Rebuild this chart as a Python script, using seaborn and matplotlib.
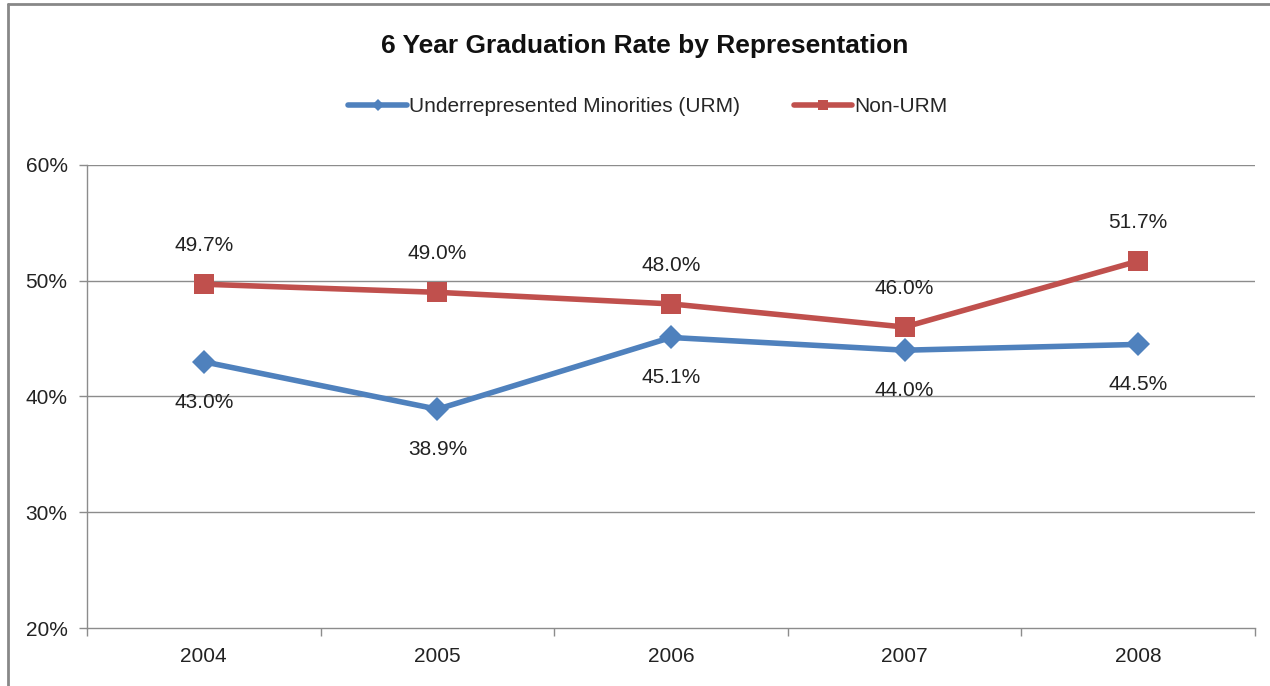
import matplotlib
matplotlib.use("Agg")
import matplotlib.pyplot as plt
import seaborn as sns
import pandas as pd
from matplotlib.lines import Line2D
from matplotlib.ticker import FixedLocator, PercentFormatter

years = ["2004", "2005", "2006", "2007", "2008"]
urm = [43.0, 38.9, 45.1, 44.0, 44.5]
non_urm = [49.7, 49.0, 48.0, 46.0, 51.7]
series_names = ["Underrepresented Minorities (URM)", "Non-URM"]
title = "6 Year Graduation Rate by Representation"
yticks = [20, 30, 40, 50, 60]

blue = "#4F81BD"
red = "#C0504D"

sns.set_theme(style="white")
plt.rcParams["font.family"] = ["Liberation Sans Narrow", "Liberation Sans", "DejaVu Sans"]

fig = plt.figure(figsize=(12.7, 6.86), dpi=100)
ax = fig.add_axes([87/1270, 1-628/686, (1255-87)/1270, (628-165)/686])

df = pd.DataFrame({"year": list(range(len(years))) * 2,
                   "rate": urm + non_urm,
                   "series": [series_names[0]] * 5 + [series_names[1]] * 5})

sns.lineplot(data=df[df.series == series_names[0]], x="year", y="rate", ax=ax,
             color=blue, lw=4, marker="D", markersize=12, markeredgewidth=0, legend=False)
sns.lineplot(data=df[df.series == series_names[1]], x="year", y="rate", ax=ax,
             color=red, lw=4, marker="s", markersize=14.5, markeredgewidth=0, legend=False)

for i, v in enumerate(urm):
    ax.annotate(f"{v:.1f}%", (i, v), xytext=(0, -29), textcoords="offset points",
                ha="center", va="center", fontsize=15, color="#222222")
for i, v in enumerate(non_urm):
    ax.annotate(f"{v:.1f}%", (i, v), xytext=(0, 28), textcoords="offset points",
                ha="center", va="center", fontsize=15, color="#222222")

ax.set_xlim(-0.5, 4.5)
ax.set_ylim(20, 60)
ax.yaxis.set_major_locator(FixedLocator(yticks))
ax.yaxis.set_major_formatter(PercentFormatter(decimals=0))
ax.set_xticks(range(len(years)))
ax.set_xticklabels(years)
ax.set_xticks([i - 0.5 for i in range(len(years) + 1)], minor=True)
ax.tick_params(axis="x", which="major", length=0, pad=14, labelsize=15, colors="#222222")
ax.tick_params(axis="x", which="minor", length=6, width=1, color="#8c8c8c", direction="out", bottom=True)
ax.tick_params(axis="y", length=6, width=1, color="#8c8c8c", direction="out", left=True,
               pad=8, labelsize=15, labelcolor="#222222")
ax.set_xlabel("")
ax.set_ylabel("")
for y in yticks[1:]:
    ax.axhline(y, color="#8c8c8c", lw=1, zorder=0)
for s in ["top", "right"]:
    ax.spines[s].set_visible(False)
for s in ["left", "bottom"]:
    ax.spines[s].set_color("#8c8c8c")
    ax.spines[s].set_linewidth(1)
ax.grid(False)

fig.text(645/1270, 1-46/686, title, ha="center", va="center", fontsize=19, fontweight="bold",
         color="#111111")

handles = [Line2D([], [], color=blue, lw=4, marker="D", markersize=6, markeredgewidth=0),
           Line2D([], [], color=red, lw=4, marker="s", markersize=7, markeredgewidth=0)]
fig.legend(handles, series_names, loc="center", bbox_to_anchor=(648/1270, 1-107/686), ncol=2,
           frameon=False, fontsize=15, handlelength=2.8, handletextpad=0.1, columnspacing=2.6)

# chart frame (left and top edges visible)
fig.add_artist(Line2D([8/1270, 8/1270], [0, 1-4/686], transform=fig.transFigure, color="#888888", lw=2))
fig.add_artist(Line2D([8/1270, 1], [1-4/686, 1-4/686], transform=fig.transFigure, color="#888888", lw=2))

fig.savefig("out.png", dpi=100)
